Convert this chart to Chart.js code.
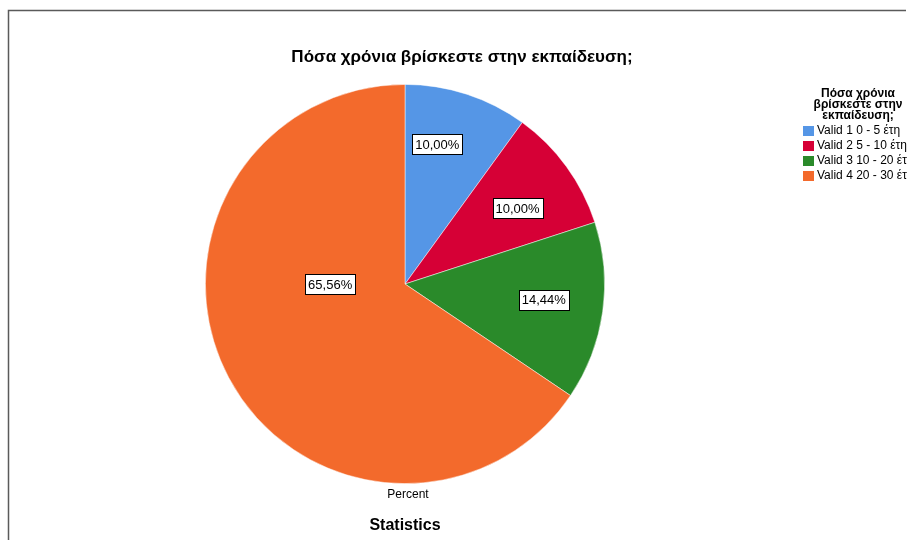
<!DOCTYPE html>
<html>
<head>
<meta charset="utf-8">
<script src="https://cdn.jsdelivr.net/npm/chart.js@4/dist/chart.umd.min.js"></script>
<style>
  html, body { margin: 0; padding: 0; background: #fff; }
  #wrap { width: 907px; height: 540px; position: relative; }
</style>
</head>
<body>
<div id="wrap"><canvas id="c" width="907" height="540"></canvas></div>
<script>
// Categories and percentages
const categories = ['Valid 1 0 - 5 έτη', 'Valid 2 5 - 10 έτη', 'Valid 3 10 - 20 έτη', 'Valid 4 20 - 30 έτη'];
const percents = [10.00, 10.00, 14.44, 65.56];
const sliceColors = ['#5596e6', '#d60036', '#2a8a2a', '#f36a2c'];

const chartTitle = 'Πόσα χρόνια βρίσκεστε στην εκπαίδευση;';
const legendTitle = ['Πόσα χρόνια', 'βρίσκεστε στην', 'εκπαίδευση;'];
const variableLabel = 'Percent';
const footerLabel = 'Statistics';

const FONT = '"Liberation Sans", Arial, sans-serif';

// Label placement along each slice: fraction of radius and angle nudge (degrees)
const labelPlacement = {
  radius: [0.72, 0.68, 0.70, 0.375],
  nudge: [-5, 2, -1.5, 28]
};

function fmt(v) {
  return v.toFixed(2).replace('.', ',') + '%';
}

const decorations = {
  id: 'decorations',
  beforeDraw(chart) {
    const ctx = chart.ctx;
    ctx.save();
    ctx.fillStyle = '#fff';
    ctx.fillRect(0, 0, chart.width, chart.height);
    // frame (top and left edges)
    ctx.strokeStyle = '#5a5a5a';
    ctx.lineWidth = 1.5;
    ctx.beginPath();
    ctx.moveTo(8.5, chart.height);
    ctx.lineTo(8.5, 10.5);
    ctx.lineTo(chart.width - 1, 10.5);
    ctx.stroke();
    ctx.restore();
  },
  afterDraw(chart) {
    const ctx = chart.ctx;
    const area = chart.chartArea;
    const cx = (area.left + area.right) / 2;
    ctx.save();
    ctx.fillStyle = '#000';
    ctx.textBaseline = 'middle';
    ctx.textAlign = 'center';

    // chart title
    ctx.font = 'bold 17px ' + FONT;
    ctx.fillText(chartTitle, 462, 57);

    // variable label and footer
    ctx.font = '12px ' + FONT;
    ctx.fillText(variableLabel, cx + 3, 495);
    ctx.font = 'bold 16px ' + FONT;
    ctx.fillText(footerLabel, cx, 526);

    // slice value labels
    const meta = chart.getDatasetMeta(0);
    ctx.font = '13px ' + FONT;
    meta.data.forEach((arc, i) => {
      const p = arc.getProps(['x', 'y', 'startAngle', 'endAngle', 'outerRadius'], true);
      const mid = (p.startAngle + p.endAngle) / 2 + labelPlacement.nudge[i] * Math.PI / 180;
      const r = p.outerRadius * labelPlacement.radius[i];
      const lx = p.x + Math.cos(mid) * r;
      const ly = p.y + Math.sin(mid) * r;
      const text = fmt(chart.data.datasets[0].data[i]);
      const w = Math.round(ctx.measureText(text).width + 6);
      const h = 20;
      const bx = Math.round(lx - w / 2) + 0.5;
      const by = Math.round(ly - h / 2) + 0.5;
      ctx.fillStyle = '#fff';
      ctx.fillRect(bx, by, w, h);
      ctx.strokeStyle = '#000';
      ctx.lineWidth = 1;
      ctx.strokeRect(bx, by, w, h);
      ctx.fillStyle = '#000';
      ctx.fillText(text, lx, ly + 1);
    });

    // legend
    ctx.font = 'bold 12px ' + FONT;
    legendTitle.forEach((line, i) => {
      ctx.fillText(line, 858, 94 + i * 11);
    });
    ctx.textAlign = 'left';
    ctx.font = '12px ' + FONT;
    chart.data.labels.forEach((lab, i) => {
      const y = 131 + i * 15;
      ctx.fillStyle = sliceColors[i];
      ctx.fillRect(803, y - 5, 11, 10);
      ctx.fillStyle = '#000';
      ctx.fillText(lab, 817, y);
    });
    ctx.restore();
  }
};

new Chart(document.getElementById('c'), {
  type: 'pie',
  data: {
    labels: categories,
    datasets: [{
      data: percents,
      backgroundColor: sliceColors,
      borderColor: 'rgba(255,255,255,0.6)',
      borderWidth: 0.8
    }]
  },
  options: {
    responsive: false,
    animation: false,
    layout: { padding: { left: 205, right: 302, top: 84, bottom: 56 } },
    plugins: {
      legend: { display: false },
      tooltip: { enabled: false },
      title: { display: false }
    }
  },
  plugins: [decorations]
});
</script>
</body>
</html>
